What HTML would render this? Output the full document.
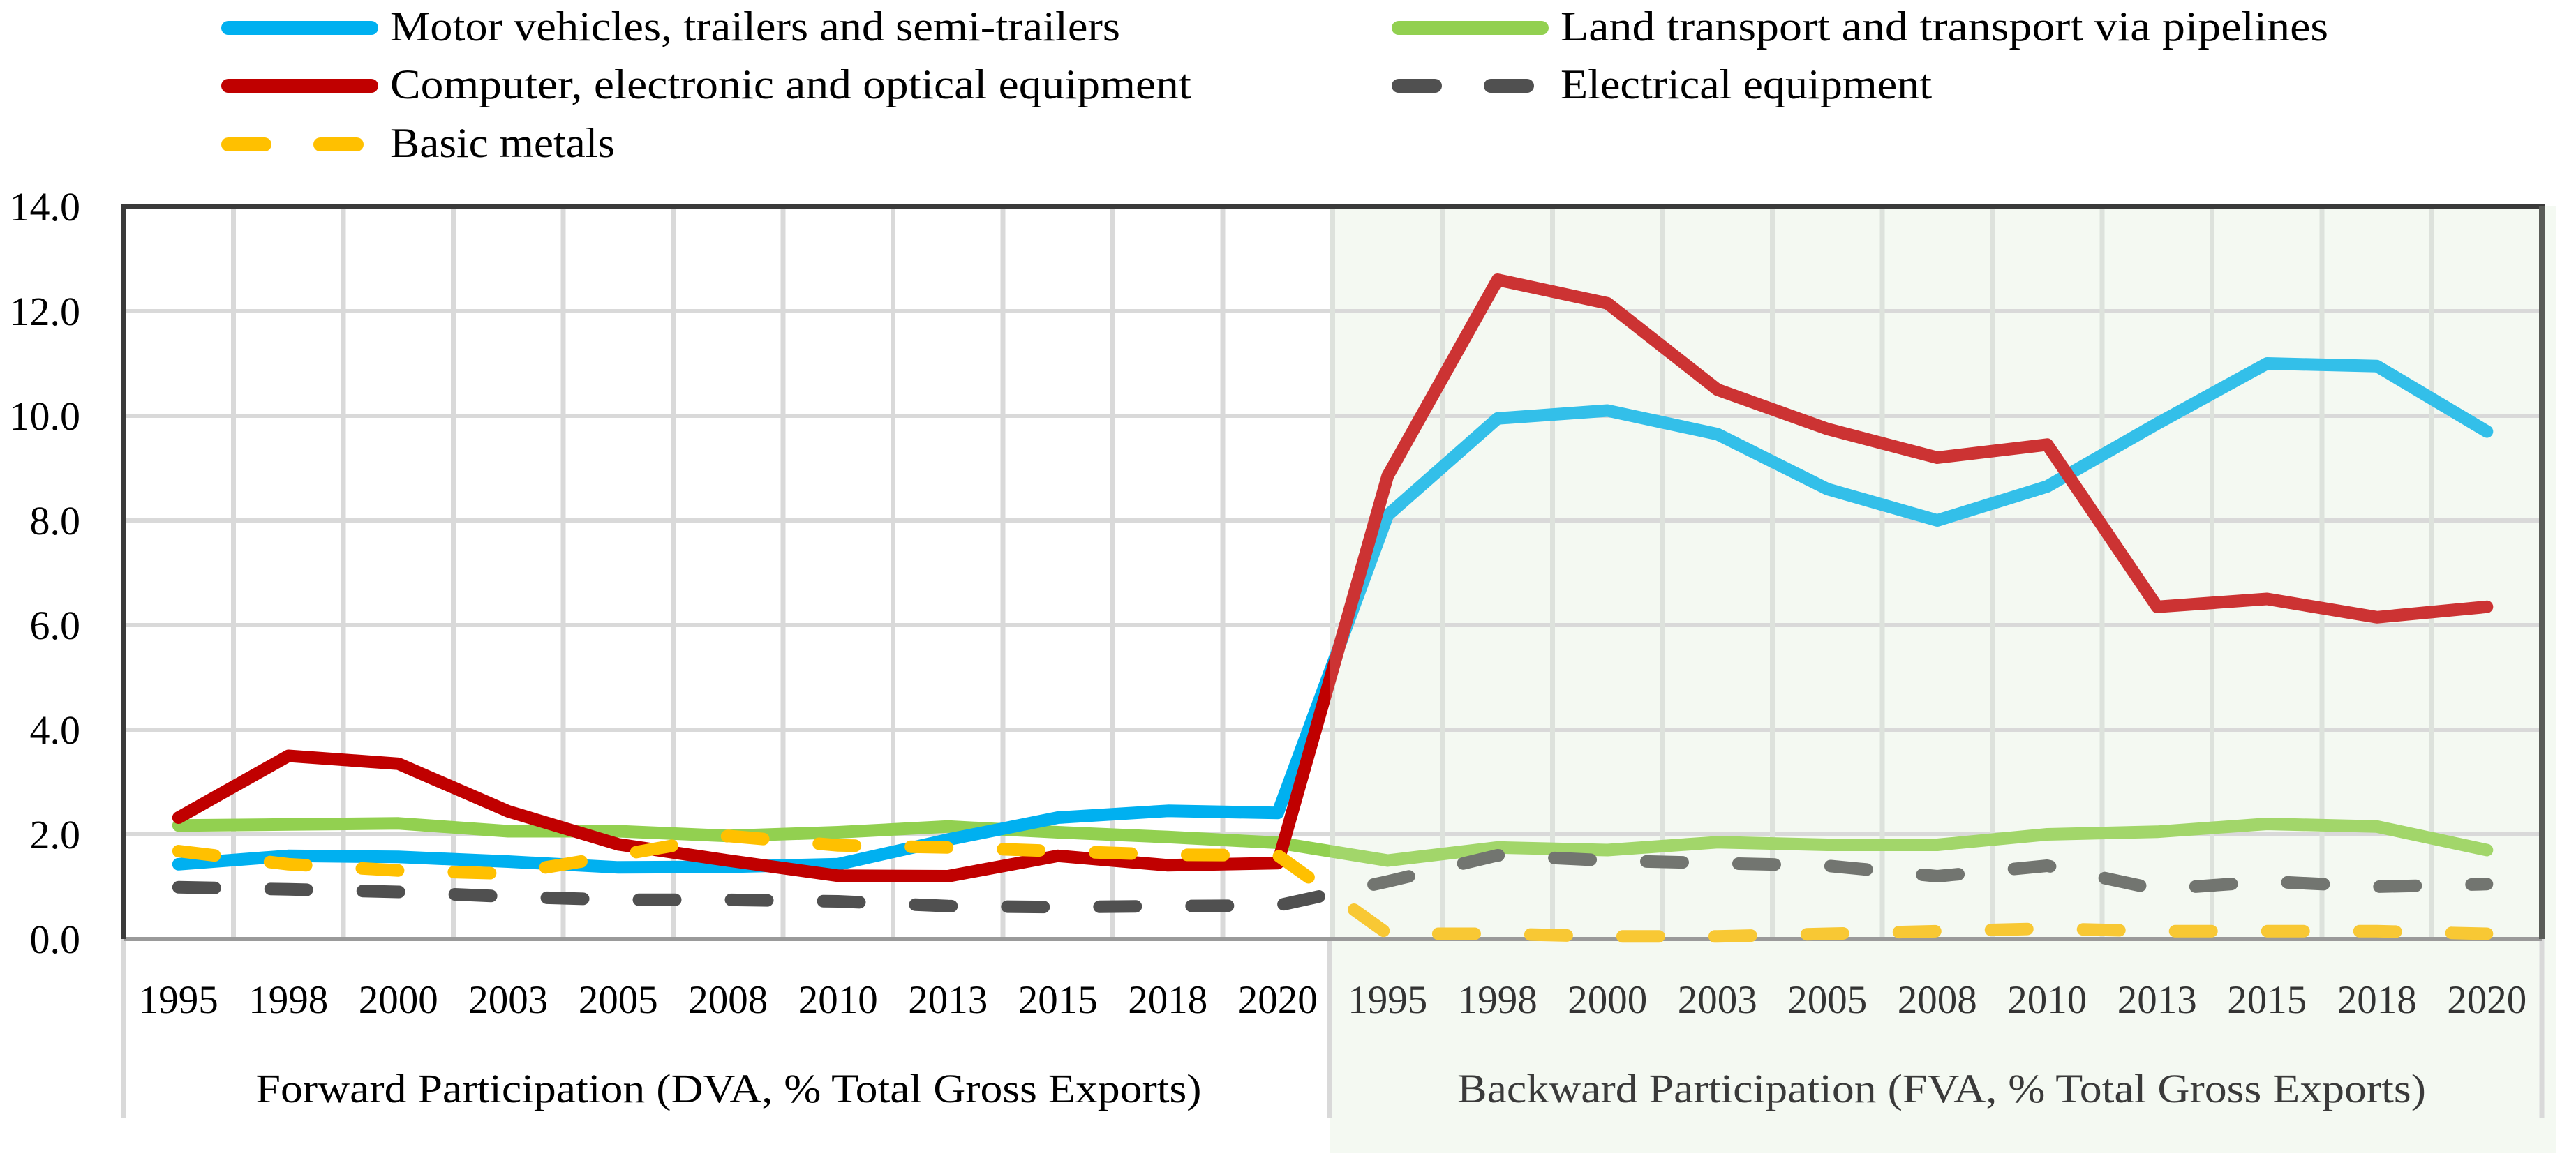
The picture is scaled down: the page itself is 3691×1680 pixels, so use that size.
<!DOCTYPE html>
<html><head><meta charset="utf-8"><style>
html,body{margin:0;padding:0;background:#fff;}
svg{display:block;font-family:"Liberation Serif",serif;}
</style></head><body>
<svg id="chart" width="3691" height="1680" viewBox="0 0 3691 1680" xmlns="http://www.w3.org/2000/svg">
<defs>
<clipPath id="clipL"><rect x="0" y="0" width="1905" height="1680"/></clipPath>
<clipPath id="clipR"><rect x="1905" y="0" width="1786" height="1680"/></clipPath>
</defs>
<rect x="1905" y="296" width="1758" height="1357" fill="#f4f9f2"/>
<g id="grid"></g>
<g id="axes"></g>
<g id="series"></g>
<g id="labels"></g>
<g id="legend"></g>
</svg>
<script>
const years = ["1995","1998","2000","2003","2005","2008","2010","2013","2015","2018","2020"];
const yTicks = [0,2,4,6,8,10,12,14];
const groupLabels = ["Forward Participation (DVA, % Total Gross Exports)","Backward Participation (FVA, % Total Gross Exports)"];
const seriesNames = ["Motor vehicles, trailers and semi-trailers","Computer, electronic and optical equipment","Basic metals","Land transport and transport via pipelines","Electrical equipment"];
const motorFwd = [1.43,1.59,1.57,1.48,1.37,1.38,1.43,1.9,2.32,2.45,2.41];
const motorBwd = [8.1,9.95,10.1,9.65,8.6,8.0,8.65,9.85,11.0,10.95,9.7];
const compFwd = [2.32,3.5,3.35,2.44,1.81,1.5,1.21,1.2,1.59,1.41,1.45];
const compBwd = [8.85,12.6,12.15,10.5,9.75,9.2,9.45,6.35,6.5,6.15,6.35];
const landFwd = [2.17,2.19,2.21,2.06,2.06,1.97,2.04,2.15,2.04,1.95,1.84];
const landBwd = [1.5,1.75,1.7,1.85,1.8,1.8,2.0,2.05,2.2,2.15,1.7];
const elecFwd = [0.99,0.95,0.9,0.81,0.75,0.75,0.72,0.63,0.61,0.63,0.64];
const elecBwd = [1.1,1.6,1.5,1.45,1.4,1.2,1.4,0.95,1.1,1.0,1.05];
const metalFwd = [1.68,1.43,1.31,1.25,1.6,1.97,1.79,1.75,1.68,1.61,1.6];
const metalBwd = [0.1,0.1,0.05,0.05,0.1,0.15,0.2,0.15,0.15,0.15,0.1];

const NS="http://www.w3.org/2000/svg";
const L=177,R=3642,T=296,B=1346,YMAX=14,NCAT=22;
const bw=(R-L)/NCAT;
function xPos(i){return L+(i+0.5)*bw;}
function yPos(v){return B-v*(B-T)/YMAX;}
function mk(tag,attrs,parent){const e=document.createElementNS(NS,tag);for(const k in attrs)e.setAttribute(k,attrs[k]);parent.appendChild(e);return e;}
const grid=document.getElementById('grid'),axes=document.getElementById('axes'),series=document.getElementById('series'),labels=document.getElementById('labels'),legend=document.getElementById('legend');

yTicks.forEach(t=>{if(t===0||t===14)return;
 const g=mk('line',{x1:L,x2:R,y1:yPos(t),y2:yPos(t),stroke:'#d9d9d9','stroke-width':6},grid);
 
 
});
for(let i=1;i<NCAT;i++){const x=L+i*bw;
 const g=mk('line',{x1:x,x2:x,y1:T,y2:B,stroke:i>=11?'#dde2dc':'#d9d9d9','stroke-width':7},grid);
 
 
}
[L,1905,R].forEach(x=>{const s=mk('line',{x1:x,x2:x,y1:B,y2:1603,stroke:'#d9d9d9','stroke-width':7},axes);
 
 });
let a=mk('line',{x1:L,x2:R,y1:B,y2:B,stroke:'#9a9a9a','stroke-width':6},axes);


a=mk('line',{x1:L-4,x2:R+4,y1:T,y2:T,stroke:'#3a3a3a','stroke-width':8},axes);


a=mk('line',{x1:L,x2:L,y1:T,y2:B,stroke:'#3a3a3a','stroke-width':8},axes);


a=mk('line',{x1:R,x2:R,y1:T,y2:B,stroke:'#5a5c58','stroke-width':8},axes);



const defs=[
 {name:'land-transport-line',fwd:landFwd,bwd:landBwd,cf:'#92d050',cb:'#a2d66a',dash:null},
 {name:'motor-vehicles-line',fwd:motorFwd,bwd:motorBwd,cf:'#00b0f0',cb:'#33bfe9',dash:null},
 {name:'computer-electronic-line',fwd:compFwd,bwd:compBwd,cf:'#c00000',cb:'#cc3333',dash:null},
 {name:'electrical-equipment-line',fwd:elecFwd,bwd:elecBwd,cf:'#505050',cb:'#727570',dash:'52 80'},
 {name:'basic-metals-line',fwd:metalFwd,bwd:metalBwd,cf:'#ffc000',cb:'#f8c834',dash:'52 80'}
];
defs.forEach(d=>{
 const vals=d.fwd.concat(d.bwd);
 const pts=vals.map((v,i)=>xPos(i).toFixed(1)+','+yPos(v).toFixed(1)).join(' ');
 [['clipL',d.cf],['clipR',d.cb]].forEach(([c,col])=>{
  const p=mk('polyline',{points:pts,fill:'none',stroke:col,'stroke-width':18,'stroke-linejoin':'round','stroke-linecap':'round','clip-path':'url(#'+c+')'},series);
  if(d.dash)p.setAttribute('stroke-dasharray',d.dash);
  
  
 });
});

yTicks.forEach(t=>{const e=mk('text',{x:115,y:yPos(t)+20,'text-anchor':'end','font-size':58,fill:'#000'},labels);
 e.textContent=t.toFixed(1);
 
 });
for(let i=0;i<NCAT;i++){const e=mk('text',{x:xPos(i),y:1452,'text-anchor':'middle','font-size':57,fill:i>=11?'#333':'#000'},labels);
 e.textContent=years[i%11];
 
 }
let g=mk('text',{x:1044,y:1580,'text-anchor':'middle','font-size':58,fill:'#000',textLength:1355,lengthAdjust:'spacingAndGlyphs'},labels);
g.textContent=groupLabels[0];


g=mk('text',{x:2782,y:1580,'text-anchor':'middle','font-size':58,fill:'#3a3a3a',textLength:1388,lengthAdjust:'spacingAndGlyphs'},labels);
g.textContent=groupLabels[1];



const leg=[
 {i:0,x:317,y:40,c:'#00b0f0',dash:null,w:1046},
 {i:1,x:317,y:123,c:'#c00000',dash:null,w:1148},
 {i:2,x:317,y:207,c:'#ffc000',dash:'52 80',w:322},
 {i:3,x:1994,y:40,c:'#92d050',dash:null,w:1100},
 {i:4,x:1994,y:123,c:'#505050',dash:'52 80',w:532}
];
leg.forEach(l=>{
 const ln=mk('line',{x1:l.x+10,x2:l.x+215,y1:l.y,y2:l.y,stroke:l.c,'stroke-width':20,'stroke-linecap':'round'},legend);
 if(l.dash)ln.setAttribute('stroke-dasharray',l.dash);
 
 
 const t=mk('text',{x:l.x+242,y:l.y+18,'font-size':60,fill:'#000',textLength:l.w,lengthAdjust:'spacingAndGlyphs'},legend);
 t.textContent=seriesNames[l.i];
 
 
});
</script>
</body></html>
